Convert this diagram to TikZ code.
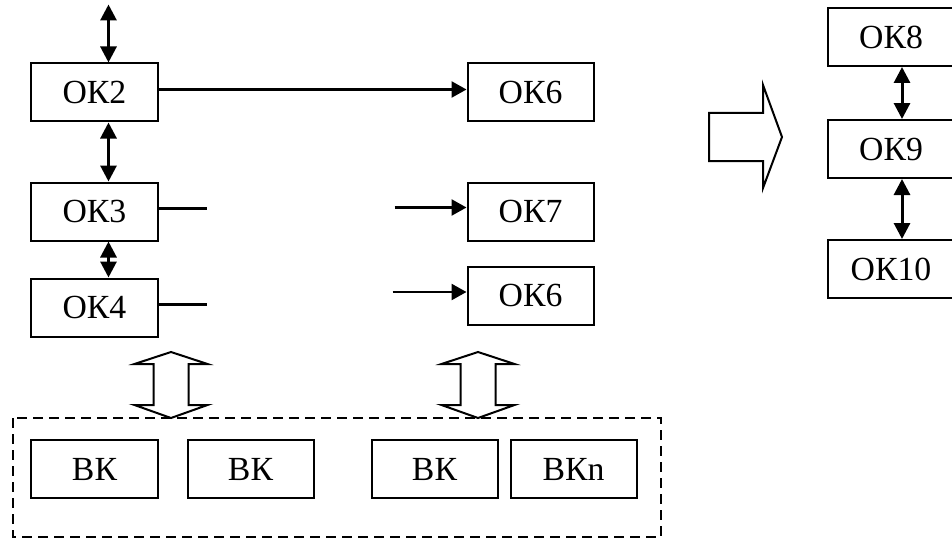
\documentclass[tikz,border=0pt]{standalone}
\usepackage{fontspec}
\setmainfont{Liberation Serif}
\usepackage{tikz}
\usetikzlibrary{positioning}
\usetikzlibrary{arrows.meta}

\begin{document}
\begin{tikzpicture}[
x=0.4pt, y=-0.4pt,
blocknode/.style={rectangle, draw=black, line width=0.8pt, minimum width=50.4pt, minimum height=23.2pt, inner sep=0pt, font=\fontsize{13.5}{16}\selectfont},
linkline/.style={line width=0.9pt},
linkarrow/.style={line width=1pt, -{Triangle[length=6pt, width=6.4pt]}},
busarrow/.style={line width=1.2pt, {Triangle[length=6.4pt, width=6.4pt]}-{Triangle[length=6.4pt, width=6.4pt]}},
bigarrow/.style={draw=black, line width=0.8pt},
groupbox/.style={draw=black, line width=0.8pt, dash pattern=on 4pt off 2.4pt},
]
\useasboundingbox (0,0) rectangle (952,539);

%Nodes
\node[blocknode]	(ok2)		at (94.5,92.5)			{ОК2};
\node[blocknode]	(ok3)		[below=23.6pt of ok2]		{ОК3};
\node[blocknode]	(ok4)		[below=14.4pt of ok3]		{ОК4};
\node[blocknode]	(ok6)		[right=123.2pt of ok2]		{ОК6};
\node[blocknode]	(ok7)		[right=123.2pt of ok3]		{ОК7};
\node[blocknode]	(ok6b)		[below=9.6pt of ok7]		{ОК6};
\node[blocknode]	(ok8)		at (891,37)			{ОК8};
\node[blocknode]	(ok9)		[below=20.8pt of ok8]		{ОК9};
\node[blocknode]	(ok10)		[below=24pt of ok9]		{ОК10};
\node[blocknode]	(bk1)		at (94.5,469)			{ВК};
\node[blocknode]	(bk2)		[right=11.2pt of bk1]		{ВК};
\node[blocknode]	(bk3)		[right=22.4pt of bk2]		{ВК};
\node[blocknode]	(bkn)		[right=4.4pt of bk3]		{ВКn};

%Free ends
\coordinate (top)	at ([xshift=5.6pt,yshift=23.2pt]ok2.north);
\coordinate (stub3)	at ([xshift=19.2pt]ok3.east);
\coordinate (stub4)	at ([xshift=19.2pt]ok4.east);
\coordinate (from7)	at ([xshift=-28.8pt]ok7.west);
\coordinate (from6b)	at ([xshift=-29.6pt]ok6b.west);

%Lines
\draw[busarrow] (top) -- ([xshift=5.6pt]ok2.north);
\draw[busarrow] ([xshift=5.6pt]ok2.south) -- ([xshift=5.6pt]ok3.north);
\draw[busarrow] ([xshift=5.6pt]ok3.south) -- ([xshift=5.6pt]ok4.north);
\draw[busarrow] ([xshift=4.4pt]ok8.south) -- ([xshift=4.4pt]ok9.north);
\draw[busarrow] ([xshift=4.4pt]ok9.south) -- ([xshift=4.4pt]ok10.north);
\draw[linkarrow] ([yshift=1.2pt]ok2.east) -- ([yshift=1.2pt]ok6.west);
\draw[linkline] ([yshift=1.2pt]ok3.east) -- ([yshift=1.2pt]stub3);
\draw[linkline] ([yshift=1.2pt]ok4.east) -- ([yshift=1.2pt]stub4);
\draw[linkarrow] ([yshift=1.6pt]from7) -- ([yshift=1.6pt]ok7.west);
\draw[linkarrow] ([yshift=1.4pt]from6b) -- ([yshift=1.4pt]ok6b.west);

%Group and wide arrows
\draw[groupbox] (13,418) rectangle (661,537);
\foreach \cx in {171,478}
  \draw[bigarrow] (\cx,352) -- (\cx+36.5,364) -- (\cx+17.5,364) -- (\cx+17.5,405) -- (\cx+36.5,405) -- (\cx,418)
    -- (\cx-36.5,405) -- (\cx-17.5,405) -- (\cx-17.5,364) -- (\cx-36.5,364) -- cycle;
\draw[bigarrow] (709,113) -- (763,113) -- (763,85) -- (782,137) -- (763,188) -- (763,161) -- (709,161) -- cycle;
\end{tikzpicture}
\end{document}
